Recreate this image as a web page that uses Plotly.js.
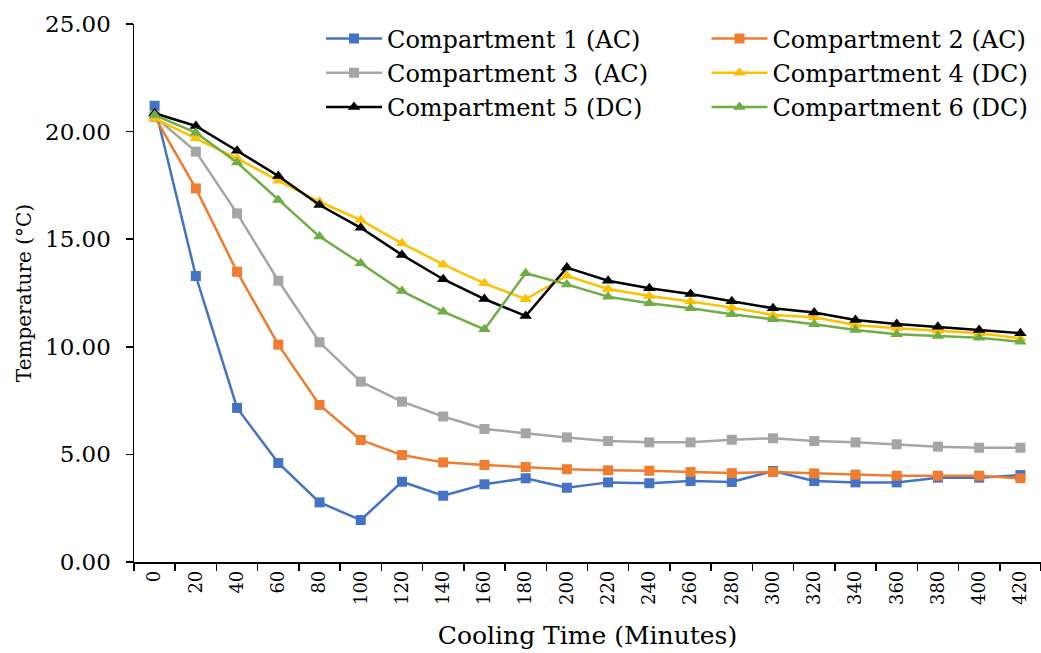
<!DOCTYPE html>
<html>
<head>
<meta charset="utf-8">
<script src="https://cdn.plot.ly/plotly-3.0.1.min.js"></script>
<style>html,body{margin:0;padding:0;background:#fff;}#chart{width:1041px;height:653px;}</style>
</head>
<body>
<div id="chart"></div>
<script>
const timeLabels = ["0","20","40","60","80","100","120","140","160","180","200","220","240","260","280","300","320","340","360","380","400","420"];
const seriesNames = ["Compartment 1 (AC)","Compartment 2 (AC)","Compartment 3  (AC)","Compartment 4 (DC)","Compartment 5 (DC)","Compartment 6 (DC)"];
const comp1 = [21.20,13.29,7.16,4.60,2.77,1.95,3.73,3.08,3.61,3.89,3.45,3.70,3.66,3.76,3.72,4.23,3.76,3.70,3.70,3.92,3.92,4.04];
const comp2 = [20.70,17.36,13.49,10.10,7.30,5.67,4.97,4.63,4.51,4.41,4.31,4.26,4.24,4.18,4.13,4.18,4.12,4.06,4.01,4.01,4.01,3.89];
const comp3 = [20.70,19.07,16.20,13.07,10.21,8.38,7.45,6.76,6.18,5.98,5.79,5.62,5.56,5.56,5.68,5.75,5.62,5.56,5.47,5.36,5.31,5.31];
const comp4 = [20.62,19.69,18.76,17.72,16.74,15.89,14.81,13.83,12.95,12.21,13.30,12.69,12.36,12.10,11.82,11.48,11.37,11.01,10.86,10.75,10.63,10.39];
const comp5 = [20.85,20.26,19.11,17.94,16.59,15.53,14.27,13.14,12.22,11.43,13.68,13.07,12.72,12.45,12.12,11.79,11.59,11.25,11.06,10.93,10.78,10.63];
const comp6 = [20.77,19.95,18.56,16.82,15.12,13.88,12.59,11.63,10.81,13.42,12.90,12.33,12.02,11.79,11.51,11.28,11.05,10.78,10.58,10.50,10.42,10.24];
const yTicks = [0,5,10,15,20,25];

const allValues = [comp1,comp2,comp3,comp4,comp5,comp6];
const colors = ["#4472C4","#ED7D31","#A5A5A5","#FFC000","#000000","#70AD47"];
const symbols = ["square","square","square","triangle-up","triangle-up","triangle-up"];
const FONT = "DejaVu Serif, serif";

const traces = allValues.map((vals,i)=>({
  type:"scatter", mode:"lines+markers",
  x: timeLabels, y: vals, name: seriesNames[i],
  legend: (i % 2 === 0) ? "legend" : "legend2",
  line:{color:colors[i], width:2.5},
  marker:{symbol:symbols[i], color:colors[i], size: i<3 ? 10 : 11}
}));

const legendCommon = {orientation:"v", y:1.014, yanchor:"top", xanchor:"left", itemwidth:56,
  font:{family:FONT, size:24, color:"#000"}, bgcolor:"rgba(0,0,0,0)", traceorder:"normal", borderwidth:0};

const layout = {
  width:1041, height:653,
  margin:{l:134, r:0, t:24, b:91},
  paper_bgcolor:"#fff", plot_bgcolor:"#fff",
  font:{family:FONT, size:22, color:"#000"},
  showlegend:true,
  legend: Object.assign({}, legendCommon, {x:0.2062}),
  legend2: Object.assign({}, legendCommon, {x:0.6312}),
  xaxis:{type:"category", tickson:"boundaries", range:[-0.5,21.5],
    showline:true, linecolor:"#000", linewidth:1.5, ticks:"outside", ticklen:7, tickcolor:"#000", tickwidth:1.5,
    tickangle:-90, tickfont:{family:FONT, size:18}, showgrid:false, zeroline:false,
    title:{text:"Cooling Time (Minutes)", font:{family:FONT, size:25}, standoff:22}},
  yaxis:{range:[0,25], tickvals:yTicks, tickformat:".2f",
    showline:true, linecolor:"#000", linewidth:1.5, ticks:"outside", ticklen:7, tickcolor:"#000", tickwidth:1.5,
    ticklabelstandoff:10,
    tickfont:{family:FONT, size:23}, showgrid:false, zeroline:false,
    title:{text:"Temperature (°C)", font:{family:FONT, size:20}, standoff:8}}
};

Plotly.newPlot("chart", traces, layout, {displayModeBar:false, staticPlot:true});
</script>
</body>
</html>
